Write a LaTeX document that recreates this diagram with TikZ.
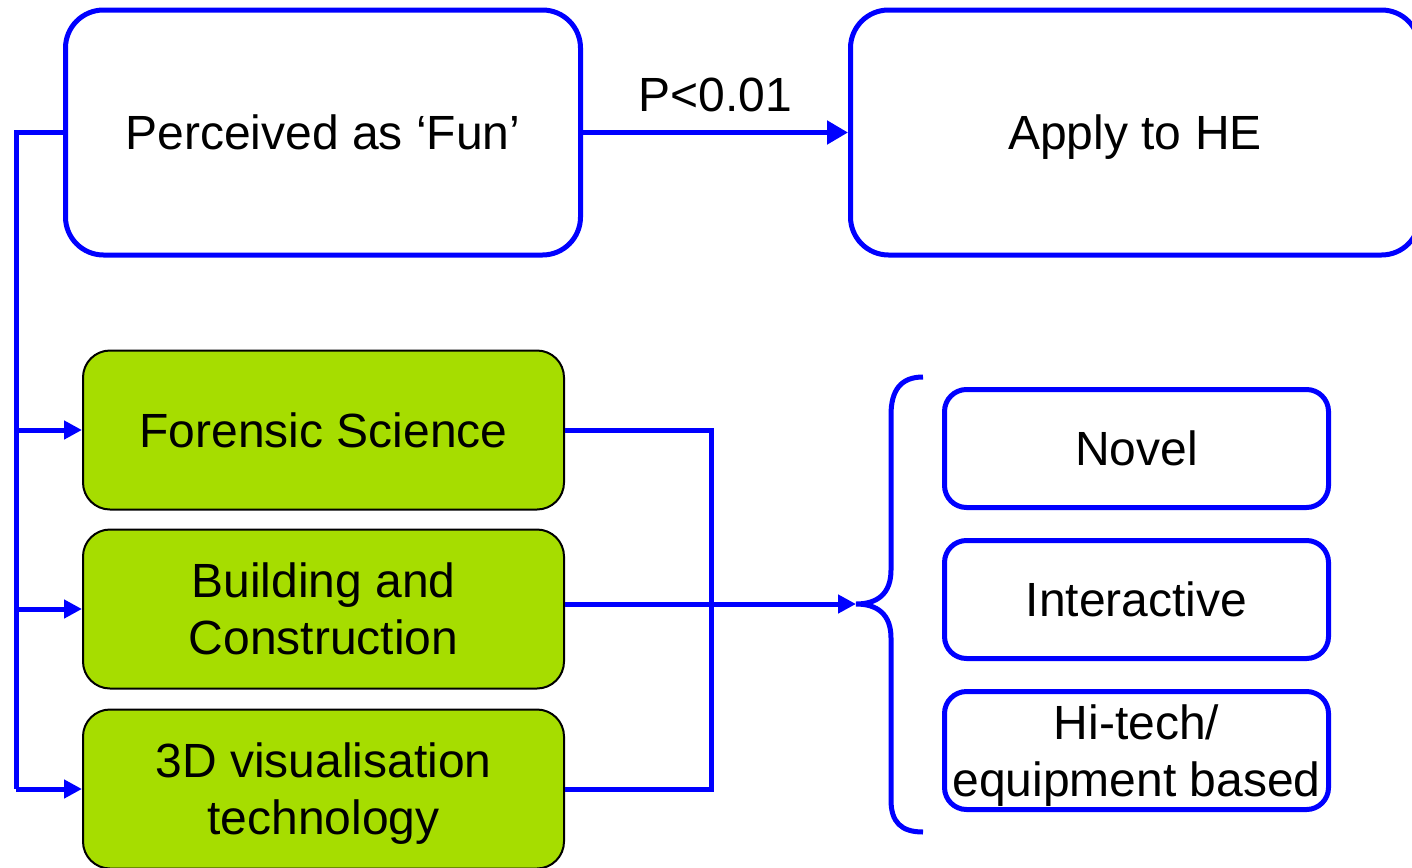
\documentclass[tikz,border=0pt]{standalone}
\usepackage{fontspec}
\setmainfont{Liberation Sans}
\usetikzlibrary{arrows.meta}
\definecolor{bl}{RGB}{0,0,255}
\definecolor{gr}{RGB}{166,221,0}
\begin{document}
\begin{tikzpicture}[x=0.5pt,y=-0.5pt,
  txt/.style={font=\fontsize{24}{28.5}\selectfont,align=center,text=black,text depth=0pt},
  bigbox/.style={txt,draw=bl,line width=2.5pt,fill=white,rounded corners=19pt,inner sep=0pt},
  smallbox/.style={txt,draw=bl,line width=2.5pt,fill=white,rounded corners=11pt,inner sep=0pt,minimum width=192pt,minimum height=59pt},
  greenbox/.style={txt,draw=black,line width=1pt,fill=gr,rounded corners=13.5pt,inner sep=0pt,minimum width=240.5pt,minimum height=79.5pt},
  link/.style={draw=bl,line width=2.5pt},
  arr/.style={link,-{Triangle[length=9pt,width=9pt]}},
  bigarr/.style={link,-{Triangle[length=10.5pt,width=11.5pt]}}]
\useasboundingbox (0,0) rectangle (1412,867);
\clip (0,0) rectangle (1412,867);
\fill[white] (0,0) rectangle (1412,867);

% top boxes
\node[bigbox,minimum width=257.5pt,minimum height=122.5pt] (fun) at (323,132.5) {Perceived as ‘Fun’};
\node[bigbox,minimum width=284.5pt,minimum height=122.5pt] (apply) at (1135,132.5) {Apply to HE};
\draw[bigarr] (fun.east) -- node[txt,above=6pt] (plabel) {P<0.01} (apply.west);

% green boxes
\node[greenbox] (for) at (323.5,430) {Forensic Science};
\node[greenbox] (bld) at (323.5,609) {Building and\\Construction};
\node[greenbox] (d3) at (323.5,789) {3D visualisation\\technology};

% left bus
\coordinate (bx) at (16,0);
\draw[link] (fun.west) -| (bx |- d3.west);
\draw[arr] (bx |- for.west) -- (for.west);
\draw[arr] (bx |- bld.west) -- (bld.west);
\draw[arr] (bx |- d3.west) -- (d3.west);

% right bus
\coordinate (rx) at (711,0);
\coordinate (tip) at (856,604);
\draw[link] (for.east) -| (rx |- d3.east) -- (d3.east);
\draw[arr] (bld.east |- tip) -- (tip);

% brace
\draw[link] (923,377) .. controls (901,377) and (891,390) .. (891,415) -- (891,570)
  .. controls (891,594) and (877,604) .. (tip)
  .. controls (877,604) and (891,614) .. (891,638) -- (891,800)
  .. controls (891,822) and (901,832) .. (923,832);

% right boxes
\node[smallbox] (novel) at (1136.5,448.5) {Novel};
\node[smallbox] (inter) at (1136.5,599.5) {Interactive};
\node[smallbox] (hitech) at (1136.5,750.5) {Hi-tech/\\equipment based};
\end{tikzpicture}
\end{document}
